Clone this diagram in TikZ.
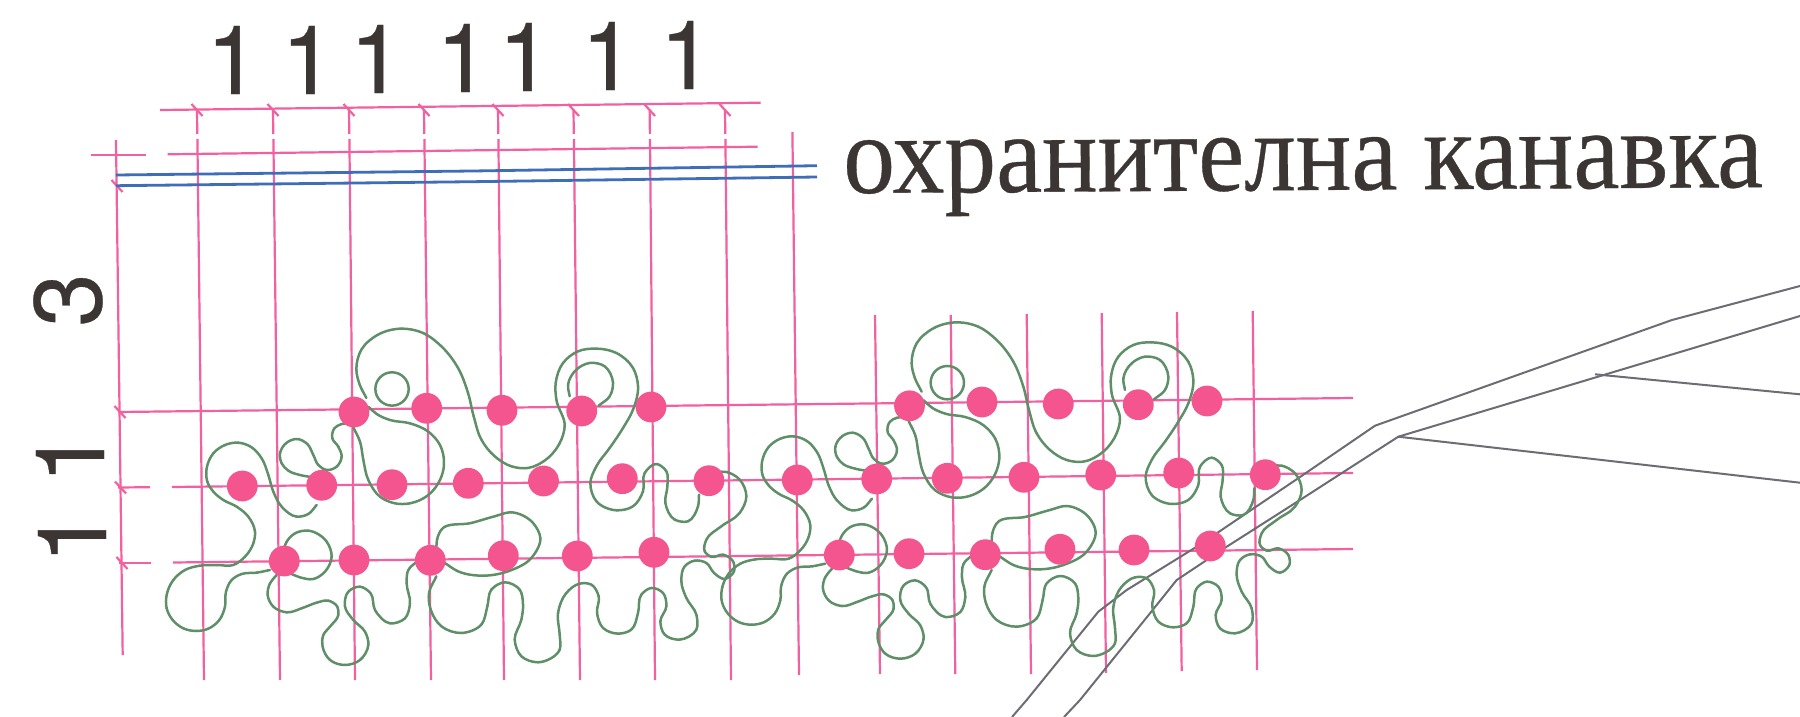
\documentclass[tikz,border=0pt]{standalone}
\usepackage{fontspec}
\setmainfont{Liberation Serif}
\newfontfamily\digitfont[FakeBold=0.3]{TeX Gyre Heros}
\newfontfamily\capfont[FakeStretch=0.925,FakeBold=0.3]{Liberation Serif}
\definecolor{gridpink}{HTML}{F2609F}
\definecolor{dotpink}{HTML}{F5558F}
\definecolor{curvegreen}{HTML}{5F8F68}
\definecolor{canalblue}{HTML}{3F6DB8}
\definecolor{roadgrey}{HTML}{6C6C74}
\definecolor{inkdark}{HTML}{3B3634}
\tikzset{
  gridline/.style={draw=gridpink,line width=1.1pt},
  canal/.style={draw=canalblue,line width=1.4pt},
  road/.style={draw=roadgrey,line width=1pt,line join=round},
  curve/.style={draw=curvegreen,line width=1.25pt,line cap=round},
  dotnode/.style={circle,fill=dotpink,inner sep=0pt,minimum size=15.4pt},
  dimdigit/.style={text=inkdark,inner sep=0pt,font=\digitfont\fontsize{48}{48}\selectfont},
  caption/.style={text=inkdark,inner sep=0pt,font=\capfont\fontsize{56}{56}\selectfont},
}
\newcommand{\tickat}[2]{\draw[gridline] (#1-5.5,#2-6) -- (#1+5.5,#2+6);}
% chord-length Catmull-Rom through a list x/y,x/y,...
\newcommand{\smstep}[2]{%
  \xdef\smxa{\smxb}\xdef\smya{\smyb}%
  \xdef\smxb{\smxc}\xdef\smyb{\smyc}%
  \xdef\smxc{\smxd}\xdef\smyc{\smyd}%
  \xdef\smxd{#1}\xdef\smyd{#2}%
  \pgfmathsetmacro\dab{veclen(\smxb-\smxa,\smyb-\smya)}%
  \pgfmathsetmacro\dbc{veclen(\smxc-\smxb,\smyc-\smyb)}%
  \pgfmathsetmacro\dcd{veclen(\smxd-\smxc,\smyd-\smyc)}%
  \ifdim\dbc pt>0.01pt
    \ifdim\dab pt>0.01pt
      \pgfmathsetmacro\tbx{(\dbc/(\dab+\dbc))*(\smxb-\smxa)/\dab+(\dab/(\dab+\dbc))*(\smxc-\smxb)/\dbc}%
      \pgfmathsetmacro\tby{(\dbc/(\dab+\dbc))*(\smyb-\smya)/\dab+(\dab/(\dab+\dbc))*(\smyc-\smyb)/\dbc}%
    \else
      \pgfmathsetmacro\tbx{(\smxc-\smxb)/\dbc}\pgfmathsetmacro\tby{(\smyc-\smyb)/\dbc}%
    \fi
    \ifdim\dcd pt>0.01pt
      \pgfmathsetmacro\tcx{(\dcd/(\dbc+\dcd))*(\smxc-\smxb)/\dbc+(\dbc/(\dbc+\dcd))*(\smxd-\smxc)/\dcd}%
      \pgfmathsetmacro\tcy{(\dcd/(\dbc+\dcd))*(\smyc-\smyb)/\dbc+(\dbc/(\dbc+\dcd))*(\smyd-\smyc)/\dcd}%
    \else
      \pgfmathsetmacro\tcx{(\smxc-\smxb)/\dbc}\pgfmathsetmacro\tcy{(\smyc-\smyb)/\dbc}%
    \fi
    \pgfmathsetmacro\cax{\smxb+\tbx*\dbc/3}\pgfmathsetmacro\cay{\smyb+\tby*\dbc/3}%
    \pgfmathsetmacro\cbx{\smxc-\tcx*\dbc/3}\pgfmathsetmacro\cby{\smyc-\tcy*\dbc/3}%
    \draw[curve] (\smxb,\smyb) .. controls (\cax,\cay) and (\cbx,\cby) .. (\smxc,\smyc);
  \fi
}
\newcommand{\sm}[3]{% first x, first y, rest of the list
  \xdef\smxb{#1}\xdef\smyb{#2}\xdef\smxc{#1}\xdef\smyc{#2}\xdef\smxd{#1}\xdef\smyd{#2}%
  \foreach \px/\py in {#3}{\smstep{\px}{\py}\xdef\smlx{\px}\xdef\smly{\py}}%
  \smstep{\smlx}{\smly}\smstep{\smlx}{\smly}%
}
\newcommand{\motif}{%
 \begin{scope}[shift={(100,340)},scale=0.33333]
  \sm{510}{690}{470/698,425/702,395/720,378/755,375/800,358/840,325/866,290/873,250/865,218/840,200/805,200/765,220/720,255/690,300/677,350/675,400/675,435/650,460/610,465/575,445/530,410/500,370/480,340/455,322/425,320/385,340/340,375/315,415/308,455/322,485/355,505/405,520/455,545/500,590/530,625/522,650/495}
  \sm{640}{412}{600/405,565/392,545/370,540/340,560/308,592/297,622/312,640/345,655/375,680/390,710/380,725/350,715/320,697/295,703/265,725/252,750/250}
  \sm{760}{262}{780/305,790/360,805/420,840/470,885/490,930/490,985/465,1020/420,1032/375,1020/315,985/275,930/250,870/240,830/222,805/200}
  \sm{530}{705}{510/730,503/765,520/800,560/817,610/803,650/788,685/782,712/800,715/825,690/860,670/885,668/920,690/960,735/975,780/960,805/915,795/875,760/840,735/800,745/755,780/740,812/760,825/810,870/850,915/835,930/790,920/730,925/690,950/665}
  \sm{570}{700}{600/712,640/717,675/695,695/650,680/605,625/572,585/580,560/605,550/630}
 \end{scope}
 \begin{scope}[shift={(294.7,306.3)},scale=0.33333]
  \sm{215}{275}{195/235,185/190,200/130,250/85,320/67,385/80,440/120,490/185,520/260,537/330,560/400,600/450,650/480,700/485,760/455,800/400,810/360,785/280,783/230,805/170,850/135,905/127,965/140,1015/185,1030/240,1015/310,985/365,945/425,905/480,887/530,905/585,965/612,1015/600,1045/555,1050/500,1085/473,1115/495,1118/540,1112/590,1140/640,1180/645,1210/600,1213/565}
  \sm{1265}{497}{1295/497,1335/520,1355/570,1335/620,1280/660,1235/700,1230/735,1250/752,1285/745,1315/765,1318/795,1290/818,1258/800,1235/770,1200/763,1170/780,1160/825,1175/875,1205/925,1205/970,1155/1000,1110/985,1097/945,1115/900,1105/860,1070/845,1040/865,1030/920,1010/970,970/982,925/965,907/920,912/870,890/835,855/832,815/860,790/920,795/985,795/1030,730/1068,680/1050,660/1000,680/940,685/895,675/850,630/828,590/850,578/900,560/955,500/980,440/960,408/910,403/860,425/810}
  \sm{450}{770}{490/795,570/808,640/795,710/755,737/695,715/650,650/618,600/630,530/650,440/670,427/700,425/725}
  \sm{825}{270}{820/235,845/190,885/170,930/180,955/230,945/270,912/298}
  \draw[curve] (292,248) circle (50);
 \end{scope}
}
\begin{document}
\begin{tikzpicture}[x=0.5pt,y=-0.5pt]
\useasboundingbox (0,0) rectangle (1800,717);
% verticals with a break under the first dimension line
\foreach \a/\b/\c in {197/200/204,273/276/280,349/351/355,424/427/431,498/500/504,573.5/576/580,649.6/651/655,725/727/731}{
  \draw[gridline] (\a,110) -- (\a+0.3,134);
  \draw[gridline] (\a+0.4,139) -- (\c,680);
  \tickat{\a}{110}
}
\draw[gridline] (116,140) -- (122.7,655);
\draw[gridline] (792.4,132) -- (799,675);
\foreach \a/\t/\c/\e in {875/315/880/674,950.7/315/955.3/674,1026.7/314/1031/674,1101.7/313/1106/673,1177/312/1181.7/671,1252.7/311/1257/670}{
  \draw[gridline] (\a,\t) -- (\c,\e);
}
% horizontals
\draw[gridline] (160,110) -- (760.6,102.7);
\draw[gridline] (167.6,154.3) -- (757.6,146.7);
\draw[gridline] (91,155) -- (145.7,155);
\draw[gridline] (118,412) -- (1353,398);
\draw[gridline] (118,487.5) -- (150,487.2);
\draw[gridline] (172,487) -- (1353,473);
\draw[gridline] (119,563) -- (151,563);
\draw[gridline] (173,562.5) -- (1353,549);
\tickat{120}{412}
\tickat{120.5}{487.5}
\tickat{122}{563}
\tickat{117}{186}
% canal
\draw[canal] (116,175) -- (473,171) -- (817,165.7);
\draw[canal] (116,185.7) -- (473,181.7) -- (817,177);
% roads
\draw[road] (1800,286) -- (1672,320) -- (1375,425.7) -- (1300,477) -- (1216.7,533.3) -- (1196.7,546.7) -- (1126.7,590) -- (1098.3,611.7) -- (1026.7,700) -- (1012,717);
\draw[road] (1800,316) -- (1398.3,436.7) -- (1300,500) -- (1226.7,546.7) -- (1176.7,580) -- (1150,613.3) -- (1080,700) -- (1064,717);
\draw[road] (1398.3,436.7) -- (1800,482.7);
\draw[road] (1595,374.3) -- (1800,394.3);
% planting curves
\motif
\begin{scope}[shift={(555.3,-6.3)}]\motif\end{scope}
% plants
\foreach \n/\x/\y in {a1/354/412,a2/426.7/408.3,a3/502/410.3,a4/581.7/411,a5/651/407,a6/909.5/405.8,a7/982/402,a8/1058.3/404,a9/1138.3/404.7,a10/1207/401,
 b1/242.3/486,b2/321.7/485.3,b3/392/484.7,b4/468.3/483.3,b5/543.5/481,b6/622.3/478.7,b7/709/480.7,b8/797.3/480,b9/876.7/479,b10/947.3/478.3,b11/1024/477.3,b12/1100.7/475,b13/1178.7/473,b14/1265.3/474.7,
 c1/284.3/561,c2/354/560,c3/430.3/560.3,c4/503.3/555.7,c5/577.3/556,c6/654/552.3,c7/839.3/555,c8/909/553.7,c9/985.3/554.7,c10/1060/549.3,c11/1134/550,c12/1210.3/546}{
  \node[dotnode] (\n) at (\x,\y) {};
}
% dimensions
\foreach \n/\x/\y in {t1/233/60,t2/308/60,t3/376.5/59,t4/463/58,t5/525/57,t6/608/56,t7/686.5/55}{
  \node[dimdigit] (\n) at (\x,\y) {1};
}
\node[dimdigit,rotate=90] (s3) at (68,300) {3};
\node[dimdigit,rotate=90] (s1) at (70,457) {1};
\node[dimdigit,rotate=90] (s2) at (72,537) {1};
\node[caption,anchor=base west,rotate=0.37] (lab) at (843,193) {охранителна канавка};
\end{tikzpicture}
\end{document}
